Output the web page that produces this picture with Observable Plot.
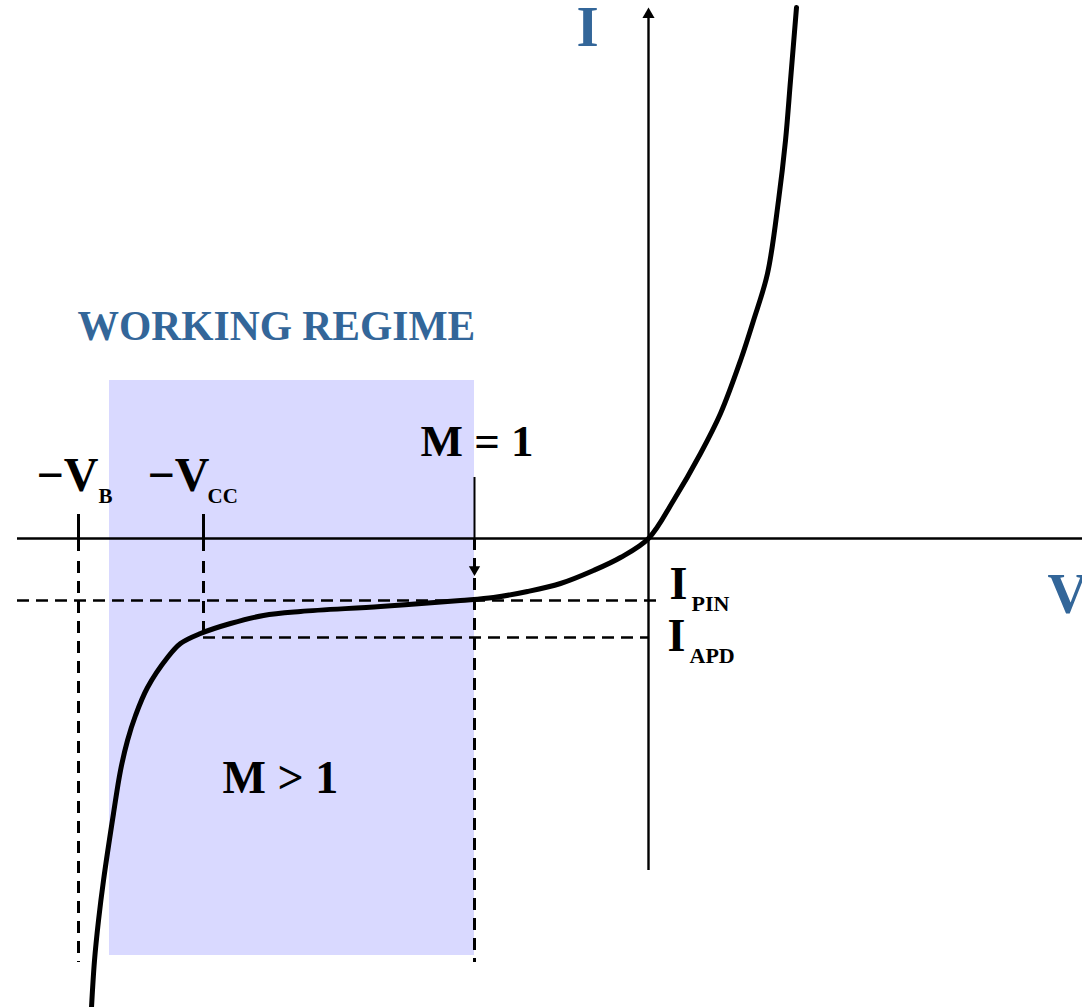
<!DOCTYPE html>
<html>
<head>
<meta charset="utf-8">
<script src="https://cdn.jsdelivr.net/npm/d3@7"></script>
<script src="https://cdn.jsdelivr.net/npm/@observablehq/plot@0.6"></script>
<style>
  body { margin: 0; background: #fff; overflow: hidden; }
  #chart svg { overflow: hidden; display: block; }
</style>
</head>
<body>
<div id="chart"></div>
<script>
// I–V characteristic of an avalanche photodiode (arbitrary units: V right, I up)
const curveV = [-55.7, -55.4, -55.0, -54.5, -53.5, -52.8, -52.1, -51.3, -50.1, -48.1, -46.8, -44.8,
                -41.8, -38.5, -34.8, -26.8, -18.8, -15.5, -12.1, -8.8, -5.5, -2.8, 0,
                2.5, 5.2, 7.2, 9.2, 10.5, 11.9, 13.0, 13.7, 14.2, 14.8];
const curveI = [-46.9, -42.2, -38.2, -34.2, -27.5, -23.2, -20.2, -17.7, -14.9, -11.9, -10.5, -9.5,
                -8.5, -7.7, -7.3, -6.8, -6.2, -5.9, -5.3, -4.5, -3.2, -1.9, 0,
                3.8, 8.5, 12.5, 17.8, 21.8, 26.5, 33.8, 39.8, 45.8, 53.1];

// Reference voltages and currents
const VB = -57;      // breakdown voltage  (−V_B)
const VCC = -44.5;   // operating bias     (−V_CC)
const VM1 = -17.4;   // onset of gain, M = 1
const IPIN = -6.2;   // photocurrent without gain
const IAPD = -9.9;   // photocurrent with gain

// Working regime band
const regimeV = [-53.9, VM1];
const regimeI = [15.8, -41.7];

// Axis extents
const axisV = [-63.1, 43.7];
const axisI = [-33.2, 52.4];

const curve = curveV.map((v, i) => ({v, i: curveI[i]}));

const serif = "'Liberation Serif', 'Times New Roman', serif";
const blue = "#336699";
const dash = "12,7";

const txt = (x, y, text, size, fill = "black") =>
  Plot.text([text], {x: () => x, y: () => y, text: d => d, textAnchor: "start", lineAnchor: "bottom",
                     fontSize: size, fontWeight: "bold", fontFamily: serif, fill});

const chart = Plot.plot({
  width: 1082,
  height: 1007,
  margin: 0,
  x: {domain: [-64.8, 43.4], axis: null},
  y: {domain: [-46.9, 53.8], axis: null},
  style: {background: "white", overflow: "hidden"},
  marks: [
    // shaded working regime
    Plot.rect([0], {x1: regimeV[0], x2: regimeV[1], y1: regimeI[0], y2: regimeI[1], fill: "#d9d9ff"}),

    // dashed guide lines
    Plot.ruleY([IPIN], {x1: axisV[0], x2: 0.9, stroke: "black", strokeWidth: 2.6, strokeDasharray: dash}),
    Plot.ruleY([IAPD], {x1: VCC, x2: 0, stroke: "black", strokeWidth: 2.6, strokeDasharray: dash}),
    Plot.ruleX([VB], {y1: -2.3, y2: -42.4, stroke: "black", strokeWidth: 3, strokeDasharray: "12,8"}),
    Plot.ruleX([VCC], {y1: -2.3, y2: IAPD, stroke: "black", strokeWidth: 3, strokeDasharray: "12,8"}),
    Plot.ruleX([VM1], {y1: 0, y2: -42.4, stroke: "black", strokeWidth: 3, strokeDasharray: "12,8"}),

    // voltage tick marks
    Plot.ruleX([VB, VCC], {y1: 2.4, y2: -1.3, stroke: "black", strokeWidth: 3}),
    Plot.ruleX([VM1], {y1: 6.1, y2: 0, stroke: "black", strokeWidth: 2}),
    Plot.dot([VM1], {x: d => d, y: () => -3.1, symbol: "triangle", rotate: 180, r: 4.2, fill: "black", stroke: null}),

    // axes
    Plot.ruleY([0], {x1: axisV[0], x2: axisV[1], stroke: "black", strokeWidth: 2.6}),
    Plot.ruleX([0], {y1: axisI[0], y2: axisI[1], stroke: "black", strokeWidth: 2.4}),
    Plot.dot([0], {x: () => 0, y: () => axisI[1], symbol: "triangle", r: 4.5, fill: "black", stroke: null}),
    Plot.dot([0], {x: () => axisV[1], y: () => 0, symbol: "triangle", rotate: 90, r: 4.5, fill: "black", stroke: null}),

    // I–V curve
    Plot.line(curve, {x: "v", y: "i", curve: "catmull-rom", stroke: "black", strokeWidth: 5}),

    // labels
    txt(-7.2, 49.3, "I", 57, blue),
    txt(39.9, -7.4, "V", 56, blue),
    txt(-57.1, 19.9, "WORKING REGIME", 41.5, blue),
    txt(-22.8, 8.3, "M = 1", 45),
    txt(-42.6, -25.4, "M > 1", 46),
    txt(-61.2, 4.8, "\u2212V", 48),
    txt(-55.0, 3.6, "B", 21),
    txt(-50.1, 4.8, "\u2212V", 48),
    txt(-44.1, 3.6, "CC", 21),
    txt(2.1, -6.0, "I", 46),
    txt(4.3, -7.2, "PIN", 22),
    txt(1.9, -11.2, "I", 46),
    txt(4.1, -12.4, "APD", 22)
  ]
});

document.getElementById("chart").append(chart);
</script>
</body>
</html>
